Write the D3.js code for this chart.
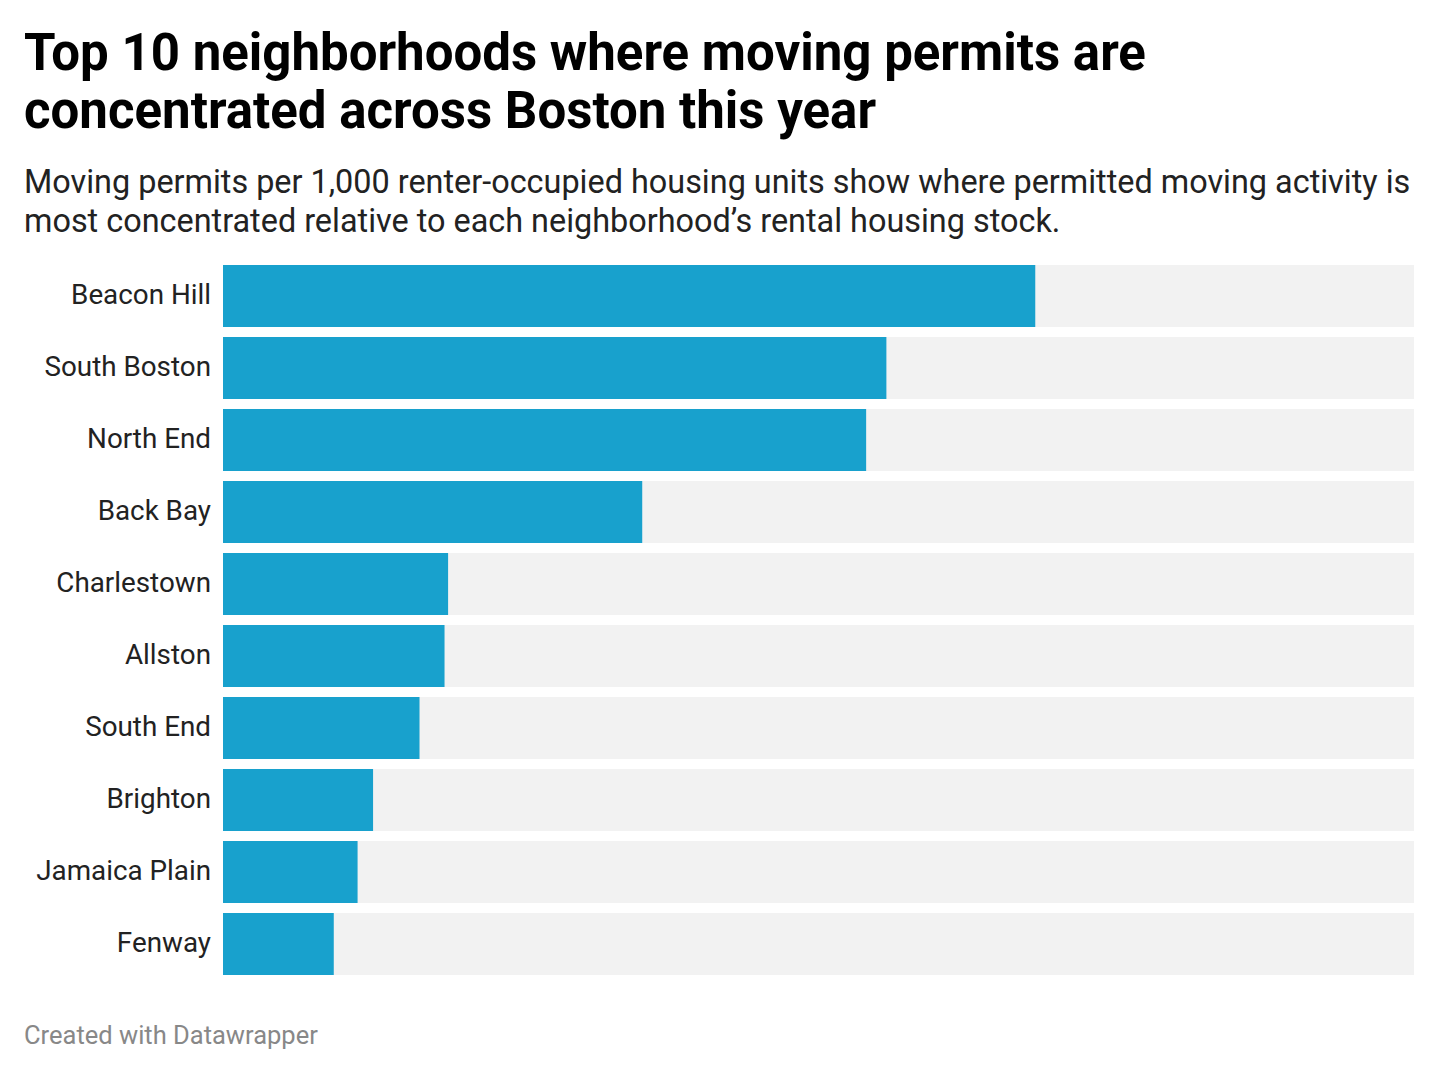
<!DOCTYPE html>
<html>
<head>
<meta charset="utf-8">
<script src="https://cdn.jsdelivr.net/npm/d3@7"></script>
<style>
  body { margin: 0; background: #fff; font-family: Roboto, sans-serif; }
</style>
</head>
<body>
<div id="chart"></div>
<script>
var w = 1440,
	h = 1075;

// 동네 이름
var neighborhoods = ["Beacon Hill", "South Boston", "North End", "Back Bay", "Charlestown",
	"Allston", "South End", "Brighton", "Jamaica Plain", "Fenway"];

// permits per 1,000 renter-occupied units
var permits = [68.2, 55.7, 54.0, 35.2, 18.9, 18.6, 16.5, 12.6, 11.3, 9.3];

// 배경 막대의 최대값
var axisMax = [0, 100];

var titleLines = ["Top 10 neighborhoods where moving permits are",
	"concentrated across Boston this year"];
var subtitleLines = ["Moving permits per 1,000 renter-occupied housing units show where permitted moving activity is",
	"most concentrated relative to each neighborhood\u2019s rental housing stock."];

var svg = d3.select("#chart")
	.append("svg")
	.attr("width", w)
	.attr("height", h);

// 타이틀
svg.append("g")
	.selectAll("text")
	.data(titleLines)
	.enter()
	.append("text")
	.attr("x", 24)
	.attr("y", function(d, i){ return 70 + i * 58; })
	.attr("font-size", "51px")
	.attr("font-weight", "bold")
	.attr("fill", "#000")
	.text(function(d){ return d; });

svg.append("g")
	.selectAll("text")
	.data(subtitleLines)
	.enter()
	.append("text")
	.attr("x", 24)
	.attr("y", function(d, i){ return 193 + i * 39; })
	.attr("font-size", "32.4px")
	.attr("fill", "#222")
	.text(function(d){ return d; });

var x = d3.scaleLinear()
	.domain(axisMax)
	.range([223, 1414]);

var y = d3.scaleBand()
	.domain(neighborhoods)
	.range([265, 975])
	.paddingInner(0.139)
	.paddingOuter(0);

var rows = svg.append("g")
	.selectAll("g")
	.data(neighborhoods)
	.enter()
	.append("g");

// 배경
rows.append("rect")
	.attr("x", x(axisMax[0]))
	.attr("y", function(d){ return y(d); })
	.attr("width", x(axisMax[1]) - x(axisMax[0]))
	.attr("height", y.bandwidth())
	.style("fill", "#f2f2f2");

// 막대
rows.append("rect")
	.attr("x", x(0))
	.attr("y", function(d){ return y(d); })
	.attr("width", function(d, i){ return x(permits[i]) - x(0); })
	.attr("height", y.bandwidth())
	.style("fill", "#18a1cd");

// 라벨
rows.append("text")
	.attr("x", 211)
	.attr("y", function(d){ return y(d) + y.bandwidth() / 2; })
	.attr("dy", "0.3em")
	.attr("text-anchor", "end")
	.attr("font-size", "27.8px")
	.attr("fill", "#222")
	.text(function(d){ return d; });

svg.append("text")
	.attr("x", 24)
	.attr("y", 1044)
	.attr("font-size", "25.5px")
	.attr("fill", "#888")
	.text("Created with Datawrapper");
</script>
</body>
</html>
